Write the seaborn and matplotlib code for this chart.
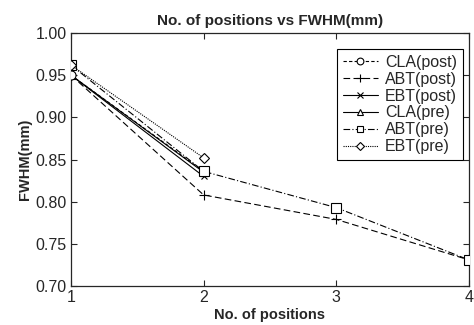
import pandas as pd
import matplotlib
matplotlib.use("Agg")
import matplotlib.pyplot as plt
import seaborn as sns

positions = [1, 2, 3, 4]

cla_post = [0.950, 0.836]
abt_post = [0.950, 0.808, 0.779, 0.731]
ebt_post = [0.950, 0.830]
cla_pre = [0.950, 0.835]
abt_pre = [0.962, 0.836, 0.793, 0.731]
ebt_pre = [0.962, 0.852]

series_names = ["CLA(post)", "ABT(post)", "EBT(post)", "CLA(pre)", "ABT(pre)", "EBT(pre)"]
series_values = [cla_post, abt_post, ebt_post, cla_pre, abt_pre, ebt_pre]

yticks = [0.70, 0.75, 0.80, 0.85, 0.90, 0.95, 1.00]

rows = []
for name, vals in zip(series_names, series_values):
    for p, v in zip(positions, vals):
        rows.append({"series": name, "pos": p, "fwhm": v})
df = pd.DataFrame(rows)

# line style, marker, marker size, drawing order
styles = {
    "CLA(post)": dict(linestyle=(0, (3, 2)), marker="o", ms=6.5, z=4),
    "ABT(post)": dict(linestyle=(0, (6, 3)), marker="+", ms=7, z=1),
    "EBT(post)": dict(linestyle="-", marker="x", ms=5, z=2),
    "CLA(pre)": dict(linestyle="-", marker="^", ms=5.5, z=3),
    "ABT(pre)": dict(linestyle=(0, (6, 2, 1, 2)), marker="s", ms=6.5, z=5),
    "EBT(pre)": dict(linestyle=(0, (1, 1)), marker="D", ms=5.5, z=6),
}

sns.set_style("ticks")
plt.rcParams["font.family"] = ["Liberation Sans", "DejaVu Sans"]

fig = plt.figure(figsize=(4.74, 3.25), dpi=100)
ax = fig.add_axes([0.15, 0.12, 0.839, 0.778])

for name in series_names:
    sub = df[df["series"] == name]
    st = styles[name]
    sns.lineplot(data=sub, x="pos", y="fwhm", ax=ax, color="black", linewidth=0.8,
                 linestyle=st["linestyle"], marker=st["marker"], markersize=st["ms"],
                 markerfacecolor="white", markeredgecolor="black", markeredgewidth=0.8,
                 label=name, legend=False, zorder=st["z"] + 2)

ax.set_xlim(1, 4)
ax.set_ylim(0.70, 1.00)
ax.set_xticks(positions)
ax.set_yticks(yticks)
ax.set_yticklabels([f"{t:.2f}" for t in yticks])
ax.tick_params(direction="in", top=True, right=True, length=4, width=0.8, labelsize=11.5, pad=3)
for s in ax.spines.values():
    s.set_linewidth(0.9)
    s.set_visible(True)

ax.set_title("No. of positions vs FWHM(mm)", fontsize=11, fontweight="bold", pad=6)
ax.set_xlabel("No. of positions", fontsize=10.5, fontweight="bold", labelpad=2)
ax.set_ylabel("FWHM(mm)", fontsize=10.5, fontweight="bold", labelpad=3)

leg = ax.legend(loc="upper right", bbox_to_anchor=(0.985, 0.937), borderaxespad=0,
                fontsize=11.5, frameon=True, fancybox=False, edgecolor="black", framealpha=1,
                handlelength=2.2, handletextpad=0.45, labelspacing=0.12, borderpad=0.35,
                markerscale=0.75)
leg.get_frame().set_linewidth(0.8)

fig.savefig("out.png", dpi=100)
